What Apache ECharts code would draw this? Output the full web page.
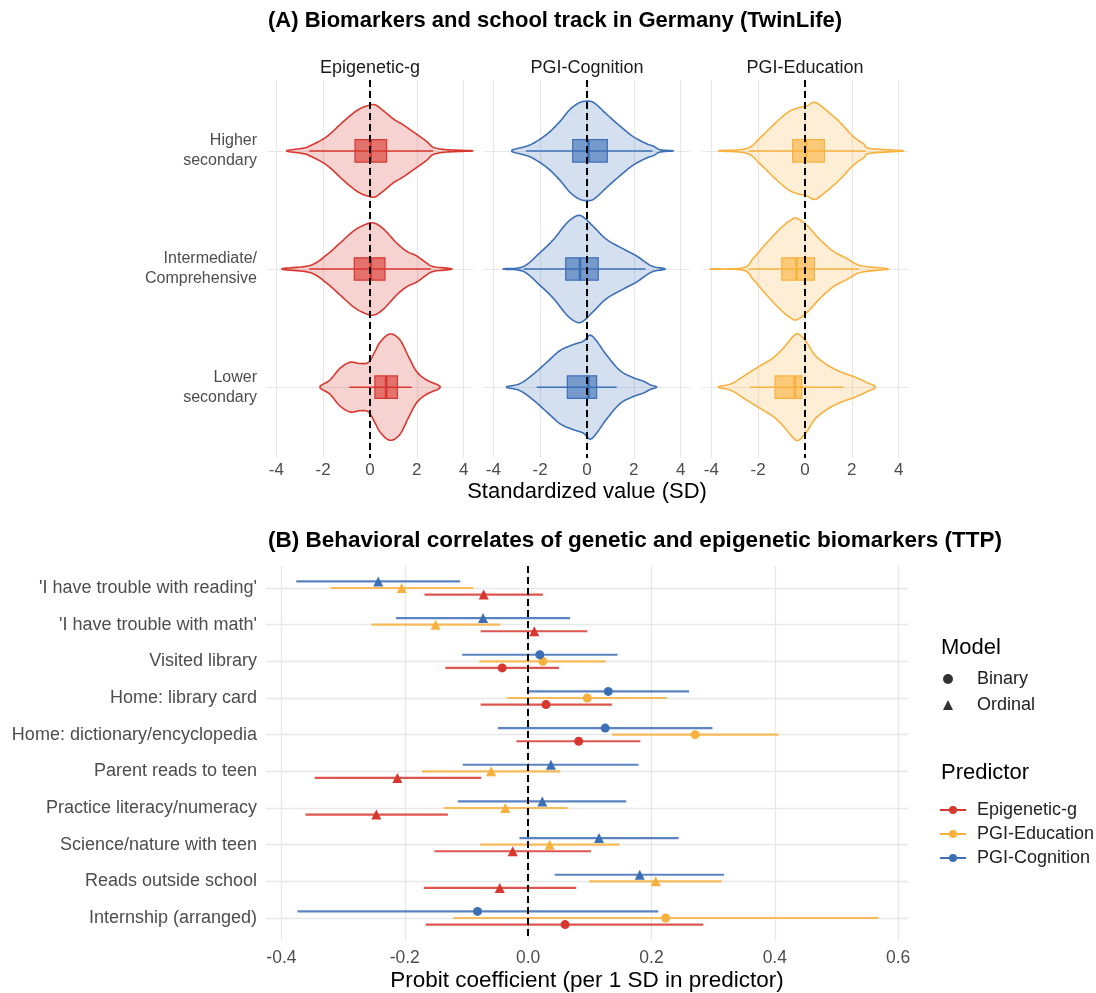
<!DOCTYPE html>
<html><head><meta charset="utf-8">
<script src="https://cdn.jsdelivr.net/npm/echarts@6/dist/echarts.min.js"></script>
<style>html,body{margin:0;padding:0;background:#fff}#c{width:1096px;height:993px}</style>
</head><body><div id="c"></div>
<script>
// ---------- Panel A data ----------
const tracks = ['Higher\nsecondary', 'Intermediate/\nComprehensive', 'Lower\nsecondary'];
const biomarkers = ['Epigenetic-g', 'PGI-Cognition', 'PGI-Education'];
const xTicksA = [-4, -2, 0, 2, 4];
// violin profiles: [value, half-width (category units)]
const violinEpiHigh = [[-3.56,0],[-2.85,0.023],[-2.56,0.043],[-1.85,0.12],[-1.13,0.25],[-0.57,0.34],[-0.14,0.38],[0.21,0.39],[0.57,0.34],[1.0,0.27],[1.42,0.22],[2.0,0.14],[2.42,0.08],[2.71,0.03],[3.28,0.01],[4.39,0]];
const violinEpiMid = [[-3.77,0],[-2.56,0.03],[-1.85,0.12],[-1.28,0.22],[-0.71,0.32],[-0.28,0.37],[0.14,0.39],[0.57,0.34],[1.14,0.22],[1.57,0.15],[2.0,0.11],[2.42,0.05],[2.71,0.02],[3.5,0]];
const violinEpiLow = [[-2.14,0],[-1.71,0.06],[-1.28,0.16],[-0.85,0.21],[-0.43,0.20],[-0.07,0.21],[0.21,0.30],[0.43,0.38],[0.85,0.45],[1.28,0.40],[1.64,0.26],[2.0,0.13],[2.42,0.06],[3.0,0]];
const violinCogHigh = [[-3.22,0],[-2.44,0.05],[-1.72,0.14],[-1.15,0.25],[-0.73,0.35],[-0.30,0.41],[0.13,0.42],[0.41,0.39],[0.84,0.31],[1.41,0.21],[1.98,0.12],[2.55,0.06],[2.84,0.04],[3.12,0.01],[3.69,0]];
const violinCogMid = [[-3.58,0],[-2.72,0.02],[-2.0,0.14],[-1.43,0.25],[-0.86,0.39],[-0.44,0.45],[-0.16,0.44],[0.27,0.36],[0.84,0.25],[1.55,0.17],[2.12,0.11],[2.55,0.05],[2.84,0.02],[3.34,0]];
const violinCogLow = [[-3.44,0],[-2.86,0.03],[-2.29,0.11],[-1.72,0.21],[-1.15,0.31],[-0.58,0.36],[-0.15,0.39],[0.13,0.44],[0.41,0.39],[0.84,0.27],[1.41,0.14],[1.98,0.08],[2.41,0.05],[2.7,0.02],[2.98,0]];
const violinEduHigh = [[-3.7,0],[-2.49,0.02],[-1.92,0.11],[-1.35,0.22],[-0.78,0.32],[-0.36,0.36],[0.07,0.38],[0.43,0.41],[0.93,0.34],[1.5,0.24],[2.07,0.12],[2.5,0.06],[2.78,0.02],[4.2,0]];
const violinEduMid = [[-4.06,0],[-2.64,0.01],[-2.21,0.09],[-1.64,0.22],[-1.07,0.34],[-0.64,0.41],[-0.36,0.43],[0.07,0.37],[0.64,0.25],[1.21,0.15],[1.78,0.09],[2.21,0.04],[2.64,0.02],[3.56,0]];
const violinEduLow = [[-3.7,0],[-3.13,0.03],[-2.49,0.11],[-1.92,0.18],[-1.35,0.25],[-0.93,0.33],[-0.5,0.43],[-0.28,0.45],[0.07,0.38],[0.43,0.27],[0.93,0.19],[1.5,0.13],[2.07,0.09],[2.64,0.04],[3.0,0]];
// box stats: [lower whisker, q1, median, q3, upper whisker]
const boxEpi = [[-2.6,-0.64,0.03,0.71,2.7],[-2.6,-0.67,0.03,0.64,2.6],[-0.88,0.21,0.69,1.17,1.78]];
const boxCog = [[-2.6,-0.61,0.06,0.87,2.8],[-2.7,-0.91,-0.30,0.48,2.5],[-2.15,-0.84,0.06,0.41,1.27]];
const boxEdu = [[-2.4,-0.53,0.04,0.83,2.6],[-2.4,-0.99,-0.36,0.40,2.3],[-2.35,-1.28,-0.43,-0.14,1.63]];

// ---------- Panel B data ----------
const outcomes = ["'I have trouble with reading'", "'I have trouble with math'", 'Visited library', 'Home: library card', 'Home: dictionary/encyclopedia', 'Parent reads to teen', 'Practice literacy/numeracy', 'Science/nature with teen', 'Reads outside school', 'Internship (arranged)'];
const outcomeModel = ['Ordinal','Ordinal','Binary','Binary','Binary','Ordinal','Ordinal','Ordinal','Ordinal','Binary'];
const predictors = ['Epigenetic-g', 'PGI-Education', 'PGI-Cognition'];
const xTicksB = [-0.4, -0.2, 0, 0.2, 0.4, 0.6];
// [estimate, lower, upper]
const coefEpi = [[-0.072,-0.168,0.024],[0.010,-0.077,0.096],[-0.042,-0.134,0.050],[0.029,-0.077,0.136],[0.082,-0.019,0.182],[-0.212,-0.346,-0.076],[-0.246,-0.361,-0.130],[-0.025,-0.152,0.102],[-0.046,-0.169,0.078],[0.060,-0.166,0.284]];
const coefEdu = [[-0.205,-0.320,-0.089],[-0.150,-0.254,-0.045],[0.024,-0.079,0.126],[0.096,-0.034,0.225],[0.271,0.136,0.406],[-0.060,-0.172,0.052],[-0.037,-0.137,0.064],[0.035,-0.078,0.148],[0.207,0.099,0.314],[0.223,-0.121,0.568]];
const coefCog = [[-0.243,-0.376,-0.110],[-0.073,-0.214,0.068],[0.019,-0.107,0.145],[0.130,-0.002,0.261],[0.125,-0.049,0.299],[0.037,-0.106,0.179],[0.023,-0.114,0.159],[0.115,-0.014,0.244],[0.181,0.043,0.318],[-0.082,-0.374,0.211]];

// ---------- styling ----------
const FONT = '"Liberation Sans", Arial, Helvetica, sans-serif';
const RED = '#d7372f', ORANGE = '#f9b13e', BLUE = '#3d6fb6';
const facetColors = [RED, BLUE, ORANGE];
const predColors = [RED, ORANGE, BLUE];
const dodge = [0.18, 0, -0.18];
const GRIDC = '#e8e8e8';
const facetLeft = [267, 484, 702];
const violins = [[violinEpiHigh, violinEpiMid, violinEpiLow],[violinCogHigh, violinCogMid, violinCogLow],[violinEduHigh, violinEduMid, violinEduLow]];
const boxes = [boxEpi, boxCog, boxEdu];
const coefs = [coefEpi, coefEdu, coefCog];

function rgba(hex, a) {
  const n = parseInt(hex.slice(1), 16);
  return 'rgba(' + (n >> 16) + ',' + ((n >> 8) & 255) + ',' + (n & 255) + ',' + a + ')';
}

// closed Catmull-Rom outline through pixel points (rendering only)
function smoothClosed(P, steps) {
  const n = P.length, out = [];
  for (let i = 0; i < n; i++) {
    const p0 = P[(i - 1 + n) % n], p1 = P[i], p2 = P[(i + 1) % n], p3 = P[(i + 2) % n];
    for (let s = 0; s < steps; s++) {
      const t = s / steps, t2 = t * t, t3 = t2 * t;
      const f = (a, b, c, d) => 0.5 * ((2 * b) + (-a + c) * t + (2 * a - 5 * b + 4 * c - d) * t2 + (-a + 3 * b - 3 * c + d) * t3);
      out.push([f(p0[0], p1[0], p2[0], p3[0]), f(p0[1], p1[1], p2[1], p3[1])]);
    }
  }
  return out;
}

function violinRender(f) {
  return function (params, api) {
    const t = api.value(1);
    const prof = violins[f][t];
    const col = facetColors[f];
    const pts = [];
    for (let i = 0; i < prof.length; i++) pts.push(api.coord([prof[i][0], t - prof[i][1]]));
    for (let i = prof.length - 2; i >= 1; i--) pts.push(api.coord([prof[i][0], t + prof[i][1]]));
    const outline = smoothClosed(pts, 10);
    const b = boxes[f][t];
    const bh = 0.095;
    const a = api.coord([b[1], t - bh]), c = api.coord([b[3], t + bh]);
    const w0 = api.coord([b[0], t]), w1 = api.coord([b[4], t]);
    const m0 = api.coord([b[2], t - bh]), m1 = api.coord([b[2], t + bh]);
    return {
      type: 'group',
      children: [
        { type: 'polygon', shape: { points: outline }, style: { fill: rgba(col, 0.22), stroke: col, lineWidth: 1.6, lineJoin: 'round' } },
        { type: 'line', shape: { x1: w0[0], y1: w0[1], x2: w1[0], y2: w1[1] }, style: { stroke: col, lineWidth: 1.5 } },
        { type: 'rect', shape: { x: Math.min(a[0], c[0]), y: Math.min(a[1], c[1]), width: Math.abs(c[0] - a[0]), height: Math.abs(c[1] - a[1]) }, style: { fill: rgba(col, 0.62), stroke: col, lineWidth: 1.2 } },
        { type: 'line', shape: { x1: m0[0], y1: m0[1], x2: m1[0], y2: m1[1] }, style: { stroke: col, lineWidth: 2.6 } }
      ]
    };
  };
}

const grids = [], xAxes = [], yAxes = [], series = [];
facetLeft.forEach((l, f) => {
  grids.push({ left: l, top: 80, width: 206, height: 378, outerBoundsMode: 'none' });
  xAxes.push({
    type: 'value', gridIndex: f, min: -4.4, max: 4.4,
    axisLine: { show: false }, axisTick: { show: false, customValues: xTicksA },
    axisLabel: { customValues: xTicksA, color: '#4d4d4d', fontSize: 17, margin: 4, fontFamily: FONT, formatter: v => String(v) },
    splitLine: { show: true, lineStyle: { color: GRIDC, width: 1.2 } },
    name: f === 1 ? 'Standardized value (SD)' : '', nameLocation: 'middle', nameGap: 23,
    nameTextStyle: { fontSize: 22, color: '#000', fontFamily: FONT }
  });
  yAxes.push({
    type: 'value', gridIndex: f, min: -0.6, max: 2.6, inverse: true,
    axisLine: { show: false }, axisTick: { show: false, customValues: [0, 1, 2] },
    axisLabel: { show: f === 0, customValues: [0, 1, 2], formatter: v => tracks[Math.round(v)], color: '#4d4d4d', fontSize: 16, lineHeight: 20, margin: 10, align: 'right', fontFamily: FONT },
    splitLine: { show: true, lineStyle: { color: GRIDC, width: 1.2 } }
  });
  series.push({
    type: 'custom', name: biomarkers[f], xAxisIndex: f, yAxisIndex: f, z: 2,
    data: tracks.map((t, i) => [0, i]), encode: { x: 0, y: 1 },
    renderItem: violinRender(f), silent: true
  });
  series.push({
    type: 'scatter', xAxisIndex: f, yAxisIndex: f, data: [], z: 6, silent: true,
    markLine: { silent: true, symbol: ['none', 'none'], label: { show: false }, animation: false,
      lineStyle: { color: '#000', type: [7, 4], width: 2 }, data: [{ xAxis: 0 }] }
  });
});

// Panel B
grids.push({ left: 266, top: 566, width: 642, height: 374, outerBoundsMode: 'none' });
xAxes.push({
  type: 'value', gridIndex: 3, min: -0.425, max: 0.616,
  axisLine: { show: false }, axisTick: { show: false, customValues: xTicksB },
  axisLabel: { customValues: xTicksB, color: '#4d4d4d', fontSize: 17.5, margin: 9, fontFamily: FONT, formatter: v => v.toFixed(1) },
  splitLine: { show: true, lineStyle: { color: GRIDC, width: 1.4 } },
  name: 'Probit coefficient (per 1 SD in predictor)', nameLocation: 'middle', nameGap: 29,
  nameTextStyle: { fontSize: 22.5, color: '#000', fontFamily: FONT }
});
const yTicksB = outcomes.map((o, i) => i);
yAxes.push({
  type: 'value', gridIndex: 3, min: -0.6, max: 9.6, inverse: true,
  axisLine: { show: false }, axisTick: { show: false, customValues: yTicksB },
  axisLabel: { customValues: yTicksB, formatter: v => outcomes[Math.round(v)], color: '#4d4d4d', fontSize: 18, margin: 9, fontFamily: FONT },
  splitLine: { show: true, lineStyle: { color: GRIDC, width: 1.4 } }
});
series.push({
  type: 'scatter', xAxisIndex: 3, yAxisIndex: 3, data: [], z: 1, silent: true,
  markLine: { silent: true, symbol: ['none', 'none'], label: { show: false }, animation: false,
    lineStyle: { color: '#000', type: [7, 4], width: 2 }, data: [{ xAxis: 0 }] }
});
predictors.forEach((p, k) => {
  const col = predColors[k];
  series.push({
    type: 'custom', name: p, xAxisIndex: 3, yAxisIndex: 3, z: 3, silent: true,
    itemStyle: { color: col },
    data: coefs[k].map((c, i) => [c[1], c[2], i + dodge[k]]),
    encode: { x: [0, 1], y: 2 },
    renderItem: function (params, api) {
      const s = api.coord([api.value(0), api.value(2)]);
      const e = api.coord([api.value(1), api.value(2)]);
      return { type: 'line', shape: { x1: s[0], y1: s[1], x2: e[0], y2: e[1] }, style: { stroke: rgba(col, 0.85), lineWidth: 2.2 } };
    }
  });
  series.push({
    type: 'scatter', name: p, xAxisIndex: 3, yAxisIndex: 3, z: 4, silent: true,
    itemStyle: { color: col, opacity: 1 },
    data: coefs[k].map((c, i) => ({
      value: [c[0], i + dodge[k]],
      symbol: outcomeModel[i] === 'Binary' ? 'circle' : 'triangle',
      symbolSize: outcomeModel[i] === 'Binary' ? 9 : 10
    }))
  });
});
series.push({ type: 'scatter', name: 'Binary', xAxisIndex: 3, yAxisIndex: 3, data: [], itemStyle: { color: '#000' } });
series.push({ type: 'scatter', name: 'Ordinal', xAxisIndex: 3, yAxisIndex: 3, data: [], itemStyle: { color: '#000' } });

const predIcon = 'path://M0,4 L26,4 L26,6 L0,6 Z M9,5 A4,4 0 1 1 17,5 A4,4 0 1 1 9,5 Z';

const option = {
  animation: false,
  backgroundColor: '#fff',
  textStyle: { fontFamily: FONT },
  title: [
    { text: '(A) Biomarkers and school track in Germany (TwinLife)', left: 268, top: 10, padding: 0, textStyle: { fontSize: 22, fontWeight: 'bold', color: '#000', fontFamily: FONT } },
    { text: '(B) Behavioral correlates of genetic and epigenetic biomarkers (TTP)', left: 268, top: 529, padding: 0, textStyle: { fontSize: 22.5, fontWeight: 'bold', color: '#000', fontFamily: FONT } }
  ],
  legend: [
    { left: 943, top: 670, padding: 0, orient: 'vertical', itemWidth: 10, itemHeight: 10, itemGap: 8, selectedMode: false,
      data: [{ name: 'Binary', icon: 'circle', itemStyle: { color: '#000' } }, { name: 'Ordinal', icon: 'triangle', itemStyle: { color: '#000' } }],
      textStyle: { fontSize: 18, lineHeight: 18, color: '#222', fontFamily: FONT, padding: [0, 0, 0, 19] } },
    { left: 940, top: 801, padding: 0, orient: 'vertical', itemWidth: 26, itemHeight: 9, itemGap: 6, selectedMode: false,
      data: predictors.map((p, k) => ({ name: p, icon: predIcon, itemStyle: { color: predColors[k] } })),
      textStyle: { fontSize: 18, lineHeight: 18, color: '#222', fontFamily: FONT, padding: [0, 0, 0, 6] } }
  ],
  graphic: [
    ...biomarkers.map((b, f) => ({ type: 'text', x: facetLeft[f] + 103, y: 68, silent: true,
      style: { text: b, fill: '#1a1a1a', font: '18px ' + FONT, textAlign: 'center', textVerticalAlign: 'middle' } })),
    { type: 'text', x: 941, y: 648, silent: true, style: { text: 'Model', fill: '#000', font: '22px ' + FONT, textAlign: 'left', textVerticalAlign: 'middle' } },
    { type: 'text', x: 941, y: 773, silent: true, style: { text: 'Predictor', fill: '#000', font: '22px ' + FONT, textAlign: 'left', textVerticalAlign: 'middle' } }
  ],
  grid: grids,
  xAxis: xAxes,
  yAxis: yAxes,
  series: series
};

const chart = echarts.init(document.getElementById('c'), null, { renderer: 'canvas', width: 1096, height: 993 });
chart.setOption(option);
</script>
</body></html>
